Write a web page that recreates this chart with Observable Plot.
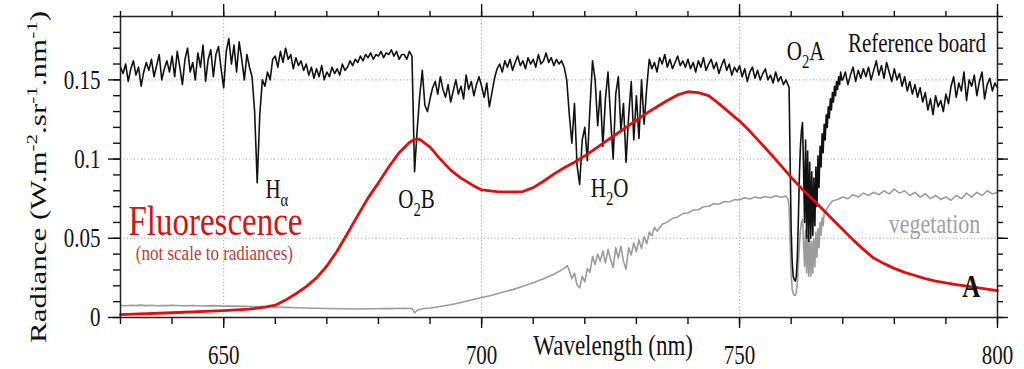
<!DOCTYPE html>
<html><head><meta charset="utf-8">
<script src="https://cdn.jsdelivr.net/npm/d3@7"></script>
<script src="https://cdn.jsdelivr.net/npm/@observablehq/plot@0.6"></script>
<style>html,body{margin:0;padding:0;background:#fff;overflow:hidden}</style>
</head><body><div id="chart"></div>
<script>
// Reference board radiance, in 0.001 W m-2 sr-1 nm-1, 630 to 759.5 nm every 0.5 nm
const refBoardStartNm = 630;
const refBoardA = [
158,154,160,149,157,162,153,158,146,155,
161,156,163,152,159,166,150,157,162,155,
165,152,168,158,147,163,170,155,161,150,
167,158,172,149,163,169,152,166,171,157,
145,168,176,160,172,155,174,163,150,166,
158,152,130,85,128,150,146,155,150,163,
165,158,168,161,170,163,166,157,164,159,
162,156,160,153,158,151,157,152,159,150,
155,152,158,154,157,153,160,156,158,162,
159,163,161,165,162,166,164,167,163,166,
165,168,164,167,166,169,165,168,163,166,
166,163,168,165,92,118,140,156,134,130,
138,145,149,141,152,144,139,147,136,143,
150,141,146,138,153,144,149,140,147,152,
146,139,148,133,142,151,157,160,155,162,
158,163,156,161,165,159,162,157,164,160,
163,158,166,160,162,167,161,164,159,163,
160,162,158,150,128,110,135,96,84,112,
120,99,132,162,150,121,143,108,138,155,
126,100,141,152,118,135,98,127,149,112,
140,113,150,122,145,163,157,161,155,164,
160,166,158,163,157,161,165,159,162,158,
163,157,161,155,162,158,164,156,160,163,
157,161,154,159,163,156,160,153,158,155,
159,152,157,149,155,158,151,156,150,154,
157,150,153,148,155,149,152,147,150,146
];
// O2A band detail [nm, value]
const refBoardO2A = [
[759.6,145],[759.8,100],[760.0,55],[760.2,35],[760.4,26],[760.6,24],[760.8,23],[761.0,26],[761.2,38],[761.4,62],
[761.6,90],[761.8,108],[762.0,118],[762.2,123],[762.4,95],[762.6,60],[762.8,112],[763.0,50],[763.2,105],[763.4,48],
[763.6,98],[763.8,50],[764.0,92],[764.2,52],[764.4,88],[764.6,58],[764.8,95],[765.0,70],[765.2,102],[765.4,82],
[765.6,108],[765.8,95],[766.0,116],[766.2,104],[766.4,122],[766.6,112],[766.8,128],[767.0,120],[767.2,133],[767.4,126],
[767.6,138],[767.8,131],[768.0,142],[768.2,136],[768.4,146],[768.6,140],[768.8,149],[769.0,144],[769.2,152],[769.4,147],
[769.6,155],[769.8,150]
];
// 770 to 800 nm every 0.5 nm
const refBoardBStartNm = 770;
const refBoardB = [
150,155,147,153,158,149,156,151,157,152,
158,150,156,162,153,159,151,161,155,149,
157,150,154,146,152,143,149,141,147,139,
145,136,142,131,138,128,140,133,137,130,
141,135,146,152,139,148,143,155,137,150,
146,153,140,149,155,138,147,151,143,148,
145
];
// Vegetation radiance [nm, 0.001 units]
const vegetation = [
[630,7.6],[631,7.4],[632,7.7],[633,7.5],[634,7.8],[635,7.5],[636,7.7],[637,7.4],[638,7.6],[639,7.5],
[640,7.7],[642,7.4],[644,7.6],[646,7.3],[648,7.5],[650,7.2],[652,7.3],[654,7.0],[656,6.8],[658,6.9],
[660,6.6],[662,6.4],[664,6.2],[666,6.0],[668,5.8],[670,5.7],[673,5.5],[676,5.4],[679,5.5],[682,5.6],
[685,5.8],[686.5,5.6],[687,3.0],[687.6,4.6],[688.5,5.5],[690,6.0],[692,6.9],[694,8.0],[696,9.5],[698,11.0],
[700,12.6],[702,14.0],[704,15.9],[706,17.6],[708,19.8],[710,22.0],[712,24.5],[714,27.3],[715,29.0],[716,31.0],
[716.6,32.8],[717,29.5],[717.5,24.5],[718,28.0],[718.5,20.5],[719,18.8],[719.5,26.0],[720,22.5],[720.5,31.0],[721,28.5],
[721.5,38.5],[722,33.5],[722.5,40.0],[723,35.5],[723.5,42.0],[724,34.5],[724.5,43.0],[725,36.5],[725.5,31.5],[726,44.0],
[726.5,37.5],[727,45.0],[727.5,35.5],[728,30.5],[728.5,44.0],[729,39.5],[729.5,47.0],[730,41.5],[730.5,49.0],[731,43.5],
[731.5,51.0],[732,46.5],[732.5,54.0],[733,51.5],[733.5,57.0],[734,54.5],[735,58.8],[736,60.2],[737,62.6],[738,63.5],
[739,65.6],[740,66.0],[741,67.8],[742,68.0],[743,69.9],[744,70.2],[745,71.8],[746,71.5],[747,73.2],[748,72.9],
[749,74.4],[750,74.2],[751,75.6],[752,74.8],[753,76.1],[754,75.3],[755,76.4],[756,75.6],[757,76.8],[758,75.9],
[759,76.6],[759.4,74.5],[759.6,70],[759.8,48],[760,28],[760.2,18],[760.4,15],[760.6,14],[760.8,14],[761,16],
[761.2,22],[761.4,34],[761.6,46],[761.8,55],[762,60],[762.2,62],[762.4,48],[762.6,32],[762.8,55],[763,28],
[763.2,52],[763.4,26],[763.6,50],[763.8,26],[764,48],[764.2,28],[764.4,50],[764.6,32],[764.8,54],[765,38],
[765.2,56],[765.4,44],[765.6,60],[765.8,52],[766,63],[766.2,58],[766.4,66],[766.8,68],[767.2,70],[767.6,72],
[768,73.5],[769,74.5],[770,76],[771,75],[772,77.5],[773,76],[774,78.5],[775,77],[776,79],[777,77.5],
[778,80],[779,78],[780,81],[781,78.5],[782,80],[783,77],[784,79],[785,76],[786,78],[787,75],
[788,77],[789,74.5],[790,76],[791,74],[792,77],[793,75],[794,78.5],[795,76],[796,79],[797,77],
[798,80],[799,78],[800,79]
];
// Fluorescence (not to scale) [nm, 0.001 units]
const fluorescence = [
[630,1.8],[640,3],[650,4.4],[655,5.3],[658,6.5],[660,7.8],[662,11],[664,15],[666,19.5],[668,25],
[670,32.5],[672,42],[674,53],[676,64.5],[678,75.5],[680,85],[682,95],[684,104],[686,110.5],[687,112.5],
[688,112.5],[690,107.5],[692,100],[694,93],[696,88],[698,84],[700,80.5],[703,79.5],[706,79.3],[708,79.5],
[710,82],[712,86],[714,90.5],[716,94.5],[718,98],[720,102],[722,106.5],[724,111],[726,115.5],[728,120],
[730,124.5],[732,129],[734,133],[736,137],[738,140.5],[740,142.5],[742,142],[744,140],[746,135],[748,129.5],
[750,124],[752,117.5],[755,107],[758,96],[760,88.5],[762,81.5],[765,72],[768,62],[770,55.5],[772,49],
[774,43],[776,37.5],[778,34],[780,31],[782,28.5],[784,26.5],[786,24.5],[788,23],[790,21.8],[792,20.8],
[794,19.8],[796,18.8],[798,17.9],[800,17]
];
const xMajorTicks = [650, 700, 750, 800];
const xMinorTicks = [630,640,650,660,670,680,690,700,710,720,730,740,750,760,770,780,790,800];
const xGridTicks = [650, 700, 750];
const yMajorTicks = [0, 0.05, 0.1, 0.15];
const yMinorTicks = [0,0.01,0.02,0.03,0.04,0.05,0.06,0.07,0.08,0.09,0.1,0.11,0.12,0.13,0.14,0.15,0.16,0.17,0.18,0.19];
const yGridTicks = [0.05, 0.1, 0.15];
const blackNotes = [
  {label: "H_{α}", nm: 660.3, val: 0.0808},
  {label: "O_{2}B", nm: 687.4, val: 0.0745},
  {label: "H_{2}O", nm: 724.8, val: 0.0813},
  {label: "O_{2}A", nm: 762.8, val: 0.1675},
  {label: "Reference board", nm: 784.4, val: 0.173}
];
const vegNote = {label: "vegetation", nm: 787.8, val: 0.059};
const aNote = {label: "A", nm: 794.9, val: 0.0193};
const fluoNote = {label: "Fluorescence", nm: 648.4, val: 0.0605};
const fluoSubNote = {label: "(not scale to radiances)", nm: 648.2, val: 0.0408};
const xLabel = {label: "Wavelength (nm)", nm: 725.5};
const yLabel = "Radiance (W.m^{-2}.sr^{-1}.nm^{-1})";

const milli = v => v / 1000;
const refTable = [
  ...refBoardA.map((v, i) => ({nm: refBoardStartNm + i * 0.5, r: milli(v)})),
  ...refBoardO2A.map(([nm, v]) => ({nm, r: milli(v)})),
  ...refBoardB.map((v, i) => ({nm: refBoardBStartNm + i * 0.5, r: milli(v)}))
];
const vegTable = vegetation.map(([nm, v]) => ({nm, r: milli(v)}));
const fluoTable = fluorescence.map(([nm, v]) => ({nm, r: milli(v)}));
const noTxt = () => "";

const svg = Plot.plot({
  width: 1024, height: 369,
  marginLeft: 120, marginRight: 27, marginTop: 16, marginBottom: 52,
  x: {domain: [630, 800]},
  y: {domain: [0, 0.19]},
  style: {fontFamily: '"Liberation Serif", "Times New Roman", serif', fontSize: "21px", color: "#111", background: "#fff", overflow: "visible"},
  marks: [
    Plot.gridX(xGridTicks, {stroke: "#9a9a9a", strokeOpacity: 1, strokeDasharray: "1,2.5", strokeWidth: 1}),
    Plot.gridY(yGridTicks, {stroke: "#9a9a9a", strokeOpacity: 1, strokeDasharray: "1,2.5", strokeWidth: 1}),
    Plot.line(vegTable, {x: "nm", y: "r", stroke: "#9b9b9b", strokeWidth: 1.6}),
    Plot.line(refTable, {x: "nm", y: "r", stroke: "#111", strokeWidth: 1.6}),
    Plot.line(fluoTable, {x: "nm", y: "r", stroke: "#e00f0f", strokeWidth: 2.8}),
    Plot.frame({stroke: "#222", strokeWidth: 1.5}),
    Plot.axisX(xMinorTicks, {anchor: "bottom", tickSize: 7, tickFormat: noTxt, label: null, strokeWidth: 1.4}),
    Plot.axisX(xMajorTicks, {anchor: "bottom", tickSize: 11, tickPadding: 19, fontSize: 21, label: null, strokeWidth: 1.4, fill: "#111"}),
    Plot.axisX(xMinorTicks, {anchor: "top", tickSize: 6, tickFormat: noTxt, label: null, strokeWidth: 1.4}),
    Plot.axisX(xMajorTicks, {anchor: "top", tickSize: 13, tickFormat: noTxt, label: null, strokeWidth: 1.4}),
    Plot.axisY(yMinorTicks, {anchor: "left", tickSize: 7, tickFormat: noTxt, label: null, strokeWidth: 1.4}),
    Plot.axisY(yMajorTicks, {anchor: "left", tickSize: 12, tickPadding: 8, fontSize: 21, tickFormat: d => String(d), label: null, strokeWidth: 1.4, fill: "#111"}),
    Plot.axisY(yMinorTicks, {anchor: "right", tickSize: 5, tickFormat: noTxt, label: null, strokeWidth: 1.4}),
    Plot.axisY(yMajorTicks, {anchor: "right", tickSize: 10, tickFormat: noTxt, label: null, strokeWidth: 1.4}),
    Plot.text(blackNotes, {x: "nm", y: "val", text: "label", fontSize: 21, fill: "#111"}),
    Plot.text([vegNote], {x: "nm", y: "val", text: "label", fontSize: 22, fill: "#a0a0a0"}),
    Plot.text([aNote], {x: "nm", y: "val", text: "label", fontSize: 25, fontWeight: "bold", fill: "#111"}),
    Plot.text([fluoNote], {x: "nm", y: "val", text: "label", fontSize: 33, fill: "#d41414"}),
    Plot.text([fluoSubNote], {x: "nm", y: "val", text: "label", fontSize: 17, fill: "#c03a3a"}),
    Plot.text([xLabel], {x: "nm", text: "label", frameAnchor: "bottom", dy: 35, fontSize: 23, fill: "#111"}),
    Plot.text([yLabel], {frameAnchor: "left", textAnchor: "middle", rotate: -90, dx: -81, dy: 10, fontSize: 31, fill: "#111"})
  ]
});
document.getElementById("chart").append(svg);

// sub/superscripts as tspans
const NS = "http://www.w3.org/2000/svg";
svg.querySelectorAll("text").forEach(el => {
  const s = el.textContent;
  if (!/[_^]\{/.test(s) || el.children.length) return;
  const fs = parseFloat(getComputedStyle(el).fontSize) || 21;
  el.textContent = "";
  let off = 0;
  const push = (txt, kind) => {
    if (!txt) return;
    const t = document.createElementNS(NS, "tspan");
    t.textContent = txt;
    let target = 0;
    if (kind === "_") { target = 0.3 * fs; t.setAttribute("font-size", 0.7 * fs); }
    else if (kind === "^") { target = -0.42 * fs; t.setAttribute("font-size", 0.68 * fs); }
    const d = target - off;
    if (d) t.setAttribute("dy", d);
    off = target;
    el.append(t);
  };
  const re = /([_^])\{([^}]*)\}/g;
  let last = 0, m;
  while ((m = re.exec(s))) { push(s.slice(last, m.index), ""); push(m[2], m[1]); last = re.lastIndex; }
  push(s.slice(last), "");
});
// the reference picture has tall, narrow lettering
svg.querySelectorAll("text").forEach(el => {
  const b = el.getBBox();
  if (!b.height || !b.width) return;
  const k = el.textContent.startsWith("Radiance") ? 0.72 : 1.28;
  const cy = b.y + b.height / 2;
  const t = el.getAttribute("transform") || "";
  el.setAttribute("transform", `${t} translate(0,${cy}) scale(1,${k}) translate(0,${-cy})`);
});
</script>
</body></html>
